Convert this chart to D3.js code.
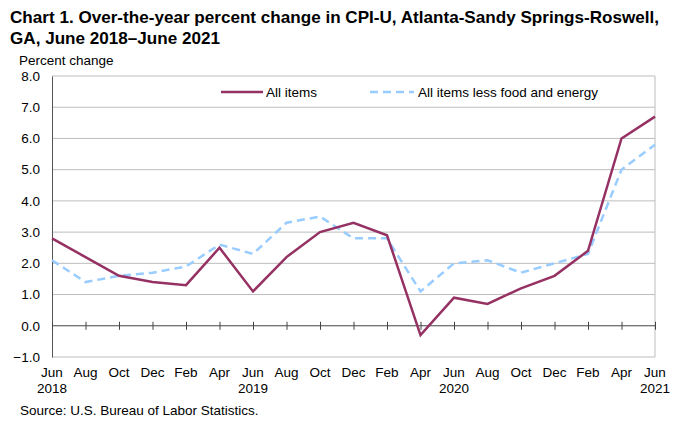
<!DOCTYPE html>
<html>
<head>
<meta charset="utf-8">
<script src="https://cdn.jsdelivr.net/npm/d3@7"></script>
<style>
  body { margin: 0; background: #fff; }
  text { font-family: "Liberation Sans", Arial, sans-serif; fill: #000; }
</style>
</head>
<body>
<div id="chart"></div>
<script>
// months shown on the x axis, every other month
var months = ["Jun","Aug","Oct","Dec","Feb","Apr","Jun","Aug","Oct","Dec","Feb","Apr","Jun","Aug","Oct","Dec","Feb","Apr","Jun"];
var years = {0: "2018", 6: "2019", 12: "2020", 18: "2021"};
var allItems = [2.8, 2.2, 1.6, 1.4, 1.3, 2.5, 1.1, 2.2, 3.0, 3.3, 2.9, -0.3, 0.9, 0.7, 1.2, 1.6, 2.4, 6.0, 6.7];
var coreItems = [2.1, 1.4, 1.6, 1.7, 1.9, 2.6, 2.3, 3.3, 3.5, 2.8, 2.8, 1.1, 2.0, 2.1, 1.7, 2.0, 2.3, 5.0, 5.8];
var yTicks = [-1, 0, 1, 2, 3, 4, 5, 6, 7, 8];

(function drawChart () {
	var W = 697, H = 433;
	var plot = {left: 52, right: 655, top: 76, bottom: 357};
	var fs = "13.5px";

	var svg = d3.select("#chart").append("svg")
		.attr("width", W)
		.attr("height", H);

	var x = d3.scaleLinear()
		.domain([0, months.length - 1])
		.range([plot.left, plot.right]);

	var y = d3.scaleLinear()
		.domain([-1, 8])
		.range([plot.bottom, plot.top]);

	// title
	svg.append("text").attr("x", 10).attr("y", 23)
		.style("font-size", "17.1px").style("font-weight", "bold")
		.text("Chart 1. Over-the-year percent change in CPI-U, Atlanta-Sandy Springs-Roswell,");
	svg.append("text").attr("x", 10).attr("y", 44)
		.style("font-size", "17.1px").style("font-weight", "bold")
		.text("GA, June 2018\u2013June 2021");

	svg.append("text").attr("x", 19).attr("y", 65)
		.style("font-size", fs)
		.text("Percent change");

	// gridlines
	svg.append("g").selectAll("line")
		.data(yTicks.filter(function(d) { return d !== 0; }))
		.enter().append("line")
		.attr("x1", plot.left).attr("x2", plot.right)
		.attr("y1", function(d) { return y(d); })
		.attr("y2", function(d) { return y(d); })
		.attr("stroke", "#bdbdbd").attr("stroke-width", 1);

	// right border
	svg.append("line")
		.attr("x1", plot.right).attr("x2", plot.right)
		.attr("y1", plot.top).attr("y2", plot.bottom)
		.attr("stroke", "#bdbdbd");

	// y axis
	var yAxis = svg.append("g")
		.attr("transform", "translate(" + plot.left + ",0)")
		.call(d3.axisLeft(y).tickValues(yTicks).tickSize(0).tickPadding(12)
			.tickFormat(d3.format(".1f")));
	yAxis.select(".domain").attr("stroke", "#555");
	yAxis.selectAll("text").style("font-size", fs)
		.style("font-family", "Liberation Sans, Arial, sans-serif").attr("fill", "#000");

	// zero line with ticks
	var xAxis = svg.append("g")
		.attr("transform", "translate(0," + y(0) + ")")
		.call(d3.axisBottom(x).tickValues(d3.range(months.length))
			.tickSize(4).tickFormat(""));
	xAxis.select(".domain").attr("stroke", "#444").attr("d", "M" + plot.left + ",0H" + plot.right);
	xAxis.selectAll(".tick line").attr("y1", -4).attr("stroke", "#444");

	// x labels below the plot
	var lab = svg.append("g");
	lab.selectAll("text.m").data(months).enter().append("text")
		.attr("class", "m")
		.attr("x", function(d, i) { return x(i); })
		.attr("y", 377)
		.attr("text-anchor", "middle")
		.style("font-size", fs)
		.text(function(d) { return d; });
	lab.selectAll("text.yr").data(Object.keys(years)).enter().append("text")
		.attr("class", "yr")
		.attr("x", function(d) { return x(+d); })
		.attr("y", 393)
		.attr("text-anchor", "middle")
		.style("font-size", fs)
		.text(function(d) { return years[d]; });

	var line = d3.line()
		.x(function(d, i) { return x(i); })
		.y(function(d) { return y(d); });

	svg.append("path").datum(coreItems)
		.attr("d", line)
		.attr("fill", "none")
		.attr("stroke", "#99ccff")
		.attr("stroke-width", 2.5)
		.attr("stroke-dasharray", "8,5");

	svg.append("path").datum(allItems)
		.attr("d", line)
		.attr("fill", "none")
		.attr("stroke", "#953163")
		.attr("stroke-width", 2.5);

	// legend
	var leg = svg.append("g");
	leg.append("line").attr("x1", 221).attr("x2", 263).attr("y1", 92).attr("y2", 92)
		.attr("stroke", "#953163").attr("stroke-width", 2.5);
	leg.append("text").attr("x", 266).attr("y", 97).style("font-size", fs).text("All items");
	leg.append("line").attr("x1", 370).attr("x2", 414).attr("y1", 92).attr("y2", 92)
		.attr("stroke", "#99ccff").attr("stroke-width", 2.5).attr("stroke-dasharray", "8,5");
	leg.append("text").attr("x", 418).attr("y", 97).style("font-size", fs).text("All items less food and energy");

	svg.append("text").attr("x", 20).attr("y", 415)
		.style("font-size", fs)
		.text("Source: U.S. Bureau of Labor Statistics.");
})();
</script>
</body>
</html>
